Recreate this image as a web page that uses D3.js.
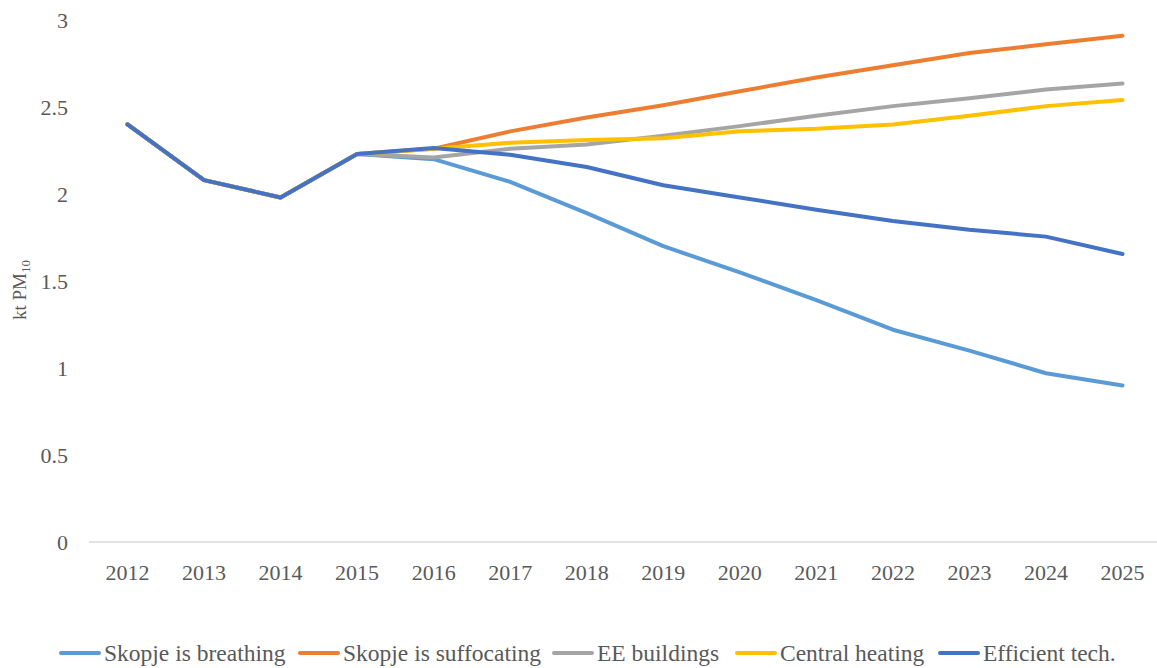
<!DOCTYPE html>
<html>
<head>
<meta charset="utf-8">
<script src="https://cdn.jsdelivr.net/npm/d3@7"></script>
<style>
html,body{margin:0;padding:0;background:#fff;}
svg{display:block;}
</style>
</head>
<body>
<svg id="chart" width="1157" height="668" font-family="'Liberation Serif', 'DejaVu Serif', 'Times New Roman', serif"></svg>
<script>
const years = [2012,2013,2014,2015,2016,2017,2018,2019,2020,2021,2022,2023,2024,2025];
const breathing   = [2.40,2.08,1.98,2.23,2.20,2.07,1.89,1.70,1.55,1.39,1.22,1.10,0.97,0.90];
const suffocating = [2.40,2.08,1.98,2.23,2.26,2.36,2.44,2.51,2.59,2.67,2.74,2.81,2.86,2.91];
const eeBuildings = [2.40,2.08,1.98,2.23,2.21,2.26,2.285,2.335,2.39,2.45,2.505,2.55,2.60,2.635];
const central     = [2.40,2.08,1.98,2.23,2.26,2.295,2.31,2.32,2.36,2.375,2.40,2.45,2.505,2.54];
const efficient   = [2.40,2.08,1.98,2.23,2.265,2.225,2.155,2.05,1.98,1.91,1.845,1.795,1.755,1.655];
const seriesNames = ["Skopje is breathing","Skopje is suffocating","EE buildings","Central heating","Efficient tech."];
const seriesColors = ["#5b9bd5","#ed7d31","#a5a5a5","#ffc000","#4472c4"];
const yTicks = [0,0.5,1,1.5,2,2.5,3];

const series = [breathing, suffocating, eeBuildings, central, efficient];
const textColor = "#595959";

const svg = d3.select("#chart");
const x = d3.scalePoint().domain(years).range([127.5, 1122.5]);
const y = d3.scaleLinear().domain([0,3]).range([542, 20]);

// x axis baseline
svg.append("line")
  .attr("x1", 89).attr("x2", 1157)
  .attr("y1", y(0)).attr("y2", y(0))
  .attr("stroke", "#d9d9d9").attr("stroke-width", 1.3);

// y tick labels
svg.append("g").selectAll("text").data(yTicks).join("text")
  .attr("x", 68).attr("y", d => y(d)).attr("dy", "0.35em")
  .attr("text-anchor", "end").attr("font-size", 22).attr("fill", textColor)
  .text(d => d3.format("")(d));

// x tick labels
svg.append("g").selectAll("text").data(years).join("text")
  .attr("x", d => x(d)).attr("y", 580)
  .attr("text-anchor", "middle").attr("font-size", 22).attr("fill", textColor)
  .text(d => d);

// y axis title
const yt = svg.append("text")
  .attr("transform", "translate(26,290) rotate(-90)")
  .attr("text-anchor", "middle").attr("font-size", 19).attr("fill", textColor);
yt.append("tspan").text("kt PM");
yt.append("tspan").attr("font-size", 13).attr("dy", 4).text("10");

// lines
const line = d3.line().x((d,i) => x(years[i])).y(d => y(d));
svg.append("g").selectAll("path").data(series).join("path")
  .attr("d", d => line(d))
  .attr("fill", "none")
  .attr("stroke", (d,i) => seriesColors[i])
  .attr("stroke-width", 4)
  .attr("stroke-linecap", "round")
  .attr("stroke-linejoin", "round");

// legend
const legendX = [61, 300, 554, 737, 940];
const lg = svg.append("g").selectAll("g").data(seriesNames).join("g")
  .attr("transform", (d,i) => `translate(${legendX[i]},653)`);
lg.append("line").attr("x1",0).attr("x2",38).attr("y1",0).attr("y2",0)
  .attr("stroke",(d,i)=>seriesColors[i]).attr("stroke-width",4).attr("stroke-linecap","round");
lg.append("text").attr("x",43).attr("y",0).attr("dy","0.33em").attr("font-size",23.5)
  .attr("fill", textColor).text(d=>d);
</script>
</body>
</html>
